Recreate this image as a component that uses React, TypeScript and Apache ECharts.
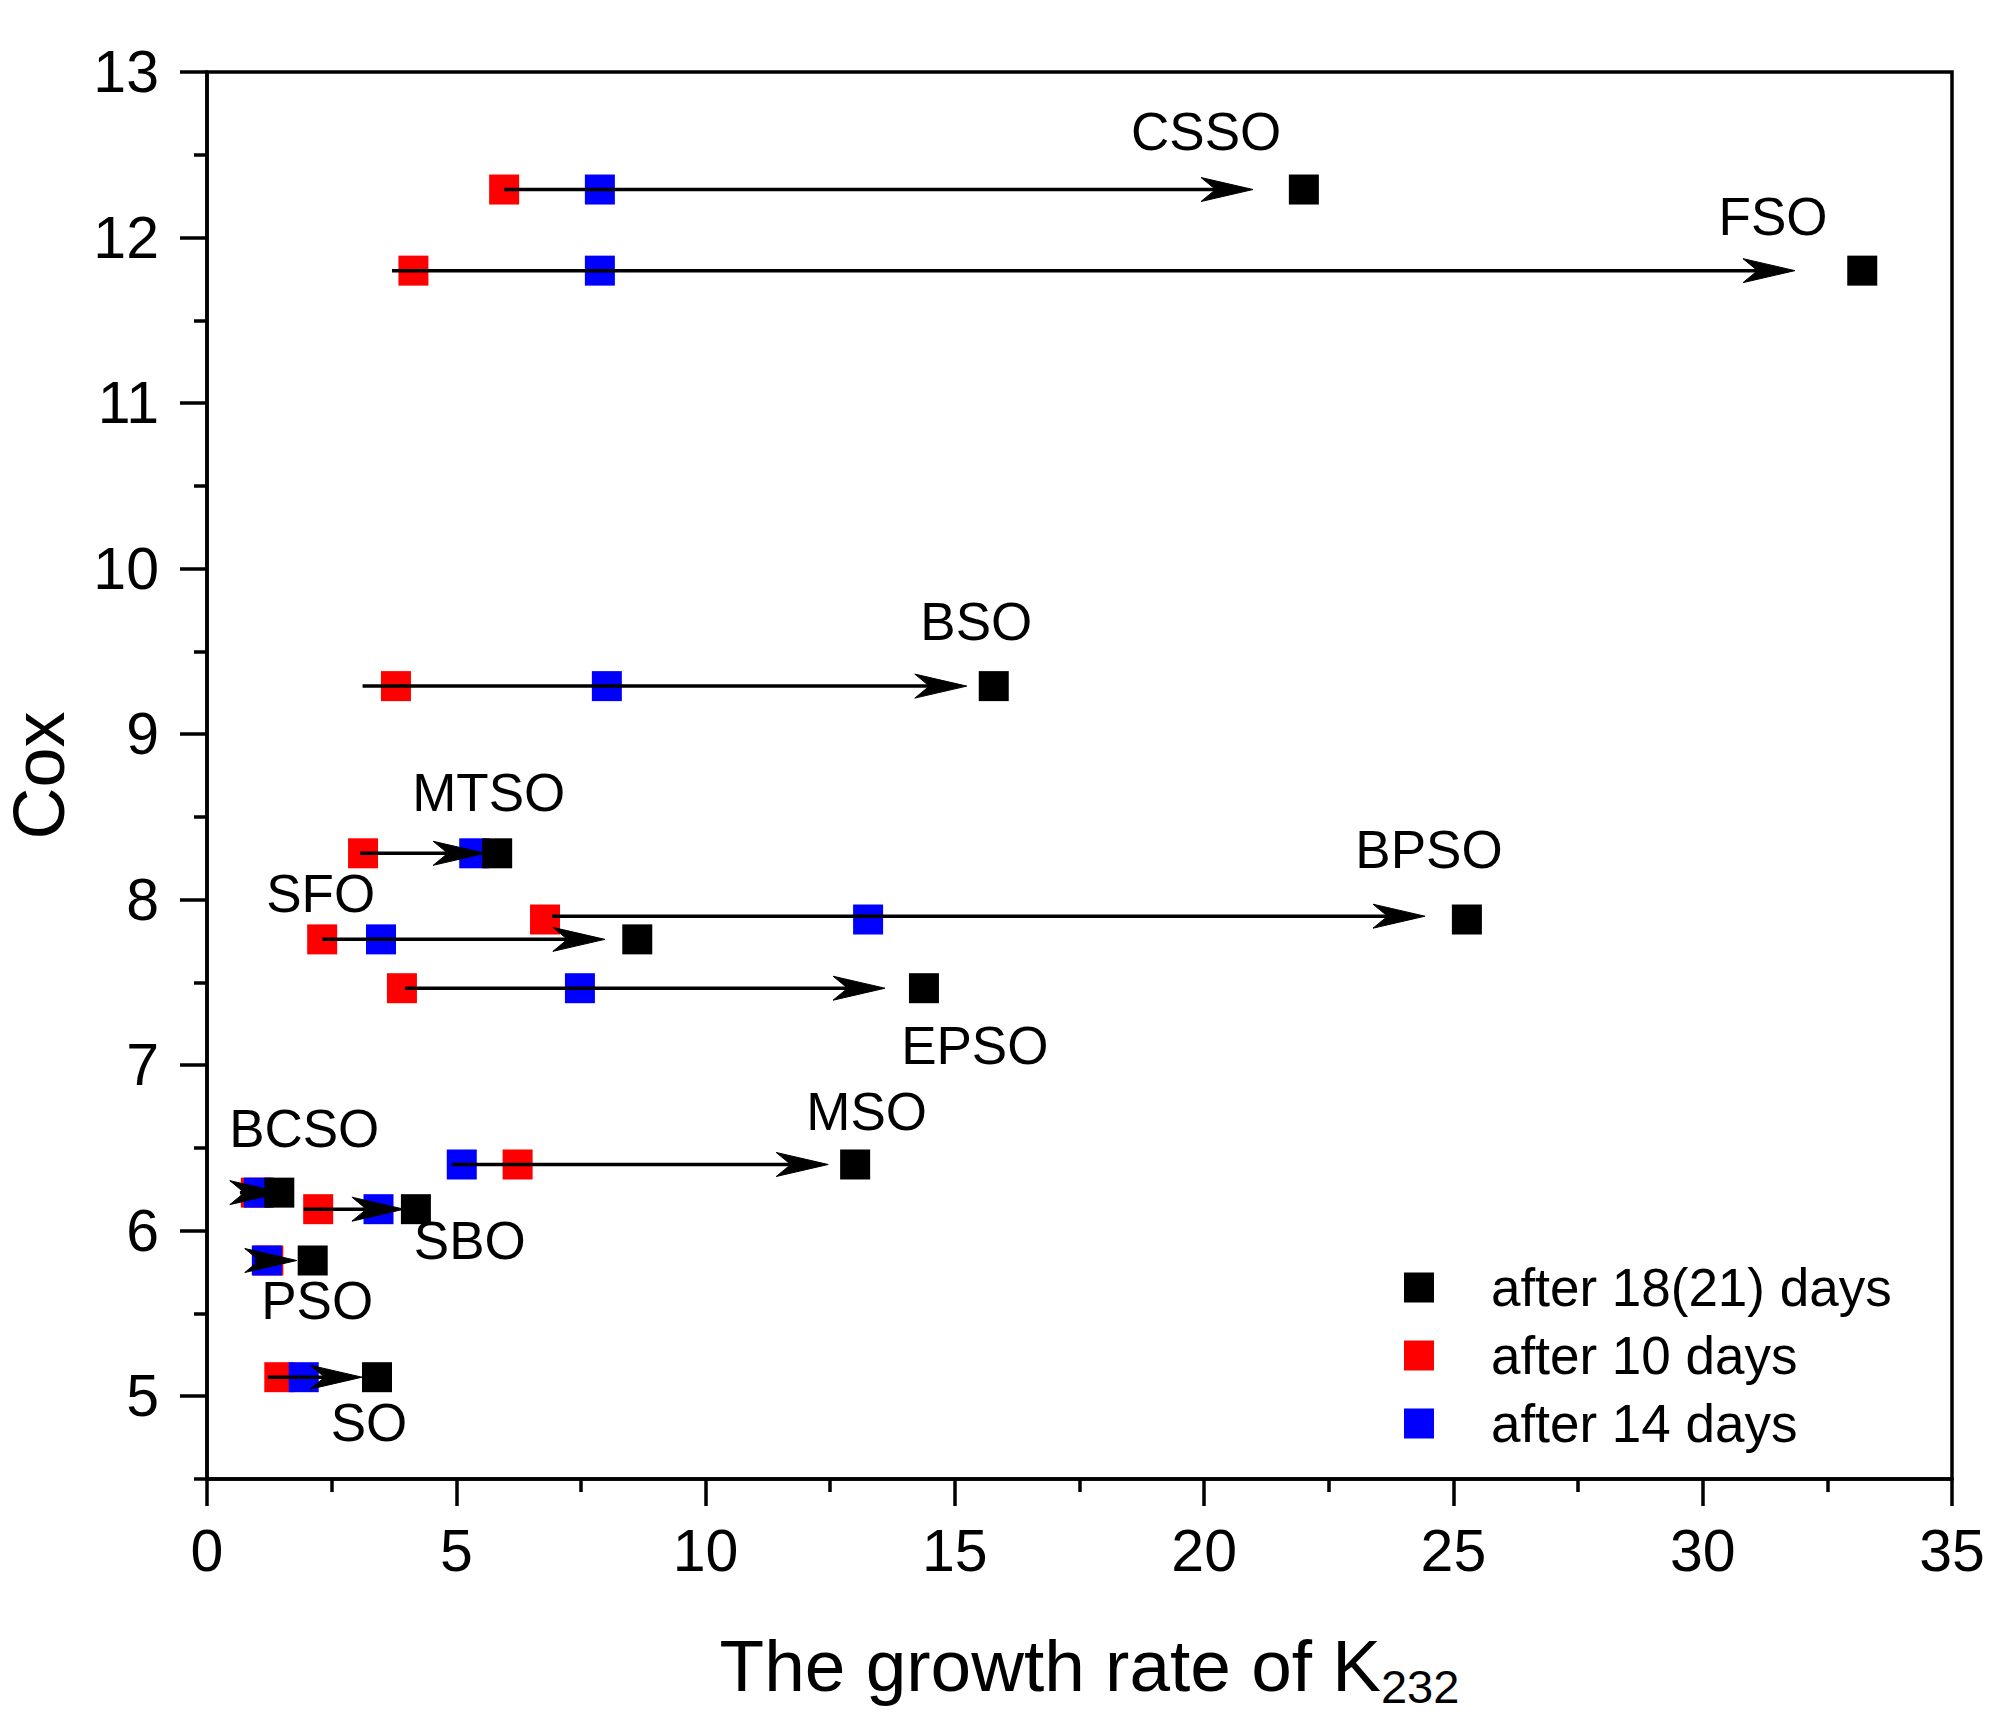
import React, { useEffect, useRef } from 'react';
import * as echarts from 'echarts';

// ---- data ----
const names = ['CSSO', 'FSO', 'BSO', 'MTSO', 'BPSO', 'SFO', 'EPSO', 'MSO', 'BCSO', 'SBO', 'PSO', 'SO'];
const cox = [12.29, 11.8, 9.29, 8.28, 7.88, 7.76, 7.465, 6.4, 6.23, 6.13, 5.82, 5.115];
const day10 = [5.96, 4.14, 3.79, 3.13, 6.78, 2.31, 3.91, 6.23, 0.98, 2.23, 1.23, 1.45];
const day14 = [7.88, 7.88, 8.02, 5.36, 13.26, 3.49, 7.48, 5.11, 1.04, 3.44, 1.2, 1.94];
const dayFinal = [22.0, 33.2, 15.78, 5.82, 25.27, 8.63, 14.38, 13.0, 1.45, 4.19, 2.12, 3.41];

const arrowStart = [5.96, 3.71, 3.12, 3.07, 6.92, 2.31, 3.97, 4.91, 0.66, 1.94, 0.96, 1.22];
const arrowTip = [20.98, 31.85, 15.24, 5.58, 24.43, 7.98, 13.6, 12.46, 1.5, 3.95, 1.8, 3.11];
const arrowY = [12.29, 11.8, 9.29, 8.28, 7.9, 7.76, 7.465, 6.4, 6.23, 6.13, 5.82, 5.115];

const labelX = [20.04, 31.41, 15.43, 5.65, 24.51, 2.28, 15.4, 13.23, 1.95, 5.27, 2.21, 3.25];
const labelY = [12.64, 12.13, 9.68, 8.645, 8.305, 8.04, 7.12, 6.72, 6.62, 5.94, 5.58, 4.84];

const yTicks = [5, 6, 7, 8, 9, 10, 11, 12, 13];
const yMinorTicks = [4.5, 5.5, 6.5, 7.5, 8.5, 9.5, 10.5, 11.5, 12.5];

const legendNames = ['after 18(21) days', 'after 10 days', 'after 14 days'];

const FONT = "'Liberation Sans', Arial, Helvetica, sans-serif";
const LW = 3.5;

export default function App() {
  const ref = useRef<HTMLDivElement>(null);

  useEffect(() => {
    if (!ref.current) return;
    const chart = echarts.init(ref.current, undefined, { renderer: 'svg' });

    const pts = (xs: number[]) => xs.map((x, i) => [x, cox[i]]);
    const arrows = arrowStart.map((s, i) => [s, arrowTip[i], arrowY[i]]);
    const labels = labelX.map((x, i) => [x, labelY[i], names[i]]);

    const option: any = {
      animation: false,
      backgroundColor: '#ffffff',
      textStyle: { fontFamily: FONT },
      grid: {
        left: 207,
        right: 50,
        top: 72,
        bottom: 256,
        show: true,
        borderColor: '#000',
        borderWidth: LW,
        backgroundColor: 'transparent',
        containLabel: false,
        outerBoundsMode: 'none',
      },
      legend: {
        data: legendNames,
        orient: 'vertical',
        left: 1399,
        top: 1256,
        itemWidth: 30,
        itemHeight: 30,
        itemGap: 15,
        icon: 'rect',
        selectedMode: false,
        textStyle: {
          fontFamily: FONT,
          fontSize: 53,
          lineHeight: 30,
          color: '#000',
          padding: [0, 0, 0, 52],
        },
      },
      xAxis: {
        type: 'value',
        min: 0,
        max: 35,
        interval: 5,
        axisLine: { show: true, onZero: false, lineStyle: { color: '#000', width: LW } },
        axisTick: { show: true, length: 27, lineStyle: { color: '#000', width: LW } },
        minorTick: { show: true, splitNumber: 2, length: 13, lineStyle: { color: '#000', width: LW } },
        splitLine: { show: false },
        minorSplitLine: { show: false },
        axisLabel: { fontFamily: FONT, fontSize: 59, color: '#000', margin: 42 },
        name: '{a|The growth rate of K}{b|232}',
        nameLocation: 'middle',
        nameGap: 141,
        nameTextStyle: {
          padding: [0, 0, 0, 20],
          rich: {
            a: { fontFamily: FONT, fontSize: 73, lineHeight: 90, color: '#000' },
            b: { fontFamily: FONT, fontSize: 47, lineHeight: 28, color: '#000', verticalAlign: 'bottom' },
          },
        },
      },
      yAxis: [
        {
          type: 'value',
          min: 4.5,
          max: 13,
          position: 'left',
          axisLine: { show: true, onZero: false, lineStyle: { color: '#000', width: LW } },
          axisTick: { show: true, length: 27, customValues: yTicks, lineStyle: { color: '#000', width: LW } },
          axisLabel: { customValues: yTicks, fontFamily: FONT, fontSize: 59, color: '#000', margin: 48 },
          splitLine: { show: false },
          name: 'Cox',
          nameLocation: 'middle',
          nameRotate: 90,
          nameGap: 132,
          nameTextStyle: { fontFamily: FONT, fontSize: 72, color: '#000' },
        },
        {
          type: 'value',
          min: 4.5,
          max: 13,
          position: 'left',
          axisLine: { show: false },
          axisTick: { show: true, length: 13, customValues: yMinorTicks, lineStyle: { color: '#000', width: LW } },
          axisLabel: { show: false },
          splitLine: { show: false },
        },
      ],
      series: [
        {
          name: 'after 10 days',
          type: 'scatter',
          data: pts(day10),
          symbol: 'rect',
          symbolSize: 30,
          itemStyle: { color: '#ff0000', opacity: 1 },
          z: 2,
          silent: true,
        },
        {
          name: 'after 14 days',
          type: 'scatter',
          data: pts(day14),
          symbol: 'rect',
          symbolSize: 30,
          itemStyle: { color: '#0000ff', opacity: 1 },
          z: 3,
          silent: true,
        },
        {
          name: 'arrows',
          type: 'custom',
          data: arrows,
          encode: { x: [0, 1], y: 2 },
          z: 4,
          silent: true,
          renderItem: (params: any, api: any) => {
            const p0 = api.coord([api.value(0), api.value(2)]);
            const p1 = api.coord([api.value(1), api.value(2)]);
            const L = 52;
            const H = 12;
            const notch = p1[0] - 0.72 * L;
            return {
              type: 'group',
              children: [
                {
                  type: 'line',
                  shape: { x1: p0[0], y1: p0[1], x2: notch + 2, y2: p1[1] },
                  style: { stroke: '#000', lineWidth: LW },
                },
                {
                  type: 'polygon',
                  shape: {
                    points: [
                      [p1[0], p1[1]],
                      [p1[0] - L, p1[1] - H],
                      [notch, p1[1]],
                      [p1[0] - L, p1[1] + H],
                    ],
                  },
                  style: { fill: '#000', stroke: '#000', lineWidth: 1 },
                },
              ],
            };
          },
        },
        {
          name: 'after 18(21) days',
          type: 'scatter',
          data: pts(dayFinal),
          symbol: 'rect',
          symbolSize: 30,
          itemStyle: { color: '#000000', opacity: 1 },
          z: 5,
          silent: true,
        },
        {
          name: 'labels',
          type: 'scatter',
          data: labels,
          symbolSize: 1,
          itemStyle: { color: 'rgba(0,0,0,0)', opacity: 1 },
          z: 6,
          silent: true,
          label: {
            show: true,
            position: 'inside',
            formatter: (p: any) => p.value[2],
            fontFamily: FONT,
            fontSize: 53,
            color: '#000',
            opacity: 1,
          },
        },
      ],
    };

    chart.setOption(option);
    return () => chart.dispose();
  }, []);

  return (
    <div
      ref={ref}
      style={{ position: 'fixed', left: 0, top: 0, width: 2002, height: 1735, background: '#fff' }}
    />
  );
}
